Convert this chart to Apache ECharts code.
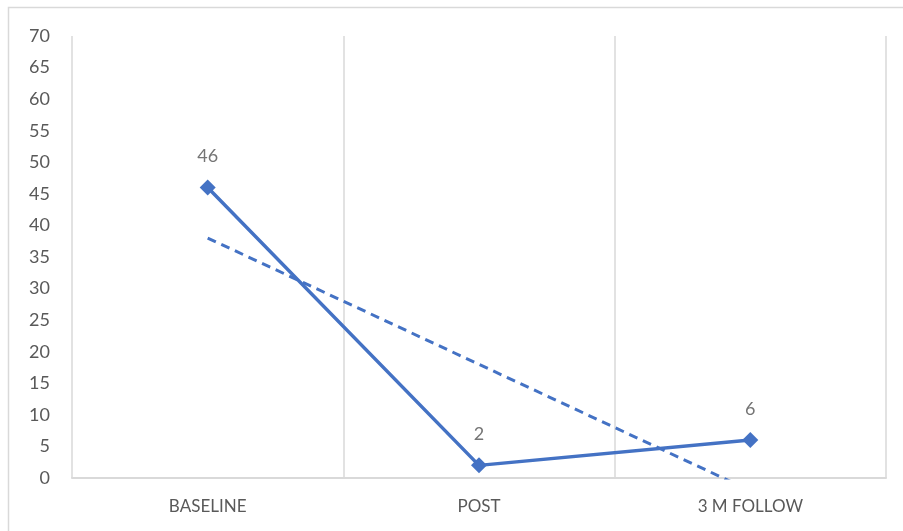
<!DOCTYPE html>
<html>
<head>
<meta charset="utf-8">
<script src="https://cdn.jsdelivr.net/npm/echarts@6/dist/echarts.min.js"></script>
<style>
  html, body { margin: 0; padding: 0; background: #fff; }
  #chart { width: 903px; height: 531px; }
</style>
</head>
<body>
<div id="chart"></div>
<script>
// Scores at each measurement point
const categories = ['BASELINE', 'POST', '3 M FOLLOW'];
const scores = [46, 2, 6];
const yTicks = { min: 0, max: 70, interval: 5 };

// Least-squares linear trend through the scores (x = 1, 2, 3)
function linearTrend(values) {
  const n = values.length;
  const xs = values.map((_, i) => i + 1);
  const mx = xs.reduce((a, b) => a + b, 0) / n;
  const my = values.reduce((a, b) => a + b, 0) / n;
  let num = 0, den = 0;
  for (let i = 0; i < n; i++) {
    num += (xs[i] - mx) * (values[i] - my);
    den += (xs[i] - mx) * (xs[i] - mx);
  }
  const slope = num / den;
  return xs.map(x => my + slope * (x - mx));
}
const trend = linearTrend(scores);

const chart = echarts.init(document.getElementById('chart'), null, { renderer: 'canvas' });
const blue = '#4472c4';
const grey = '#d9d9d9';
const labelFont = 'Lato, "Liberation Sans", sans-serif';

chart.setOption({
  animation: false,
  backgroundColor: '#fff',
  graphic: [{
    type: 'rect',
    shape: { x: 8.5, y: 7.5, width: 900, height: 530 },
    style: { fill: 'none', stroke: grey, lineWidth: 1.5 },
    silent: true
  }],
  grid: { left: 72, right: 17, top: 36, bottom: 53 },
  xAxis: {
    type: 'category',
    data: categories,
    boundaryGap: true,
    axisLine: { show: true, lineStyle: { color: grey, width: 2 } },
    axisTick: { show: false },
    splitLine: { show: true, lineStyle: { color: grey, width: 1.5 } },
    axisLabel: {
      color: '#595959',
      fontFamily: labelFont,
      fontSize: 17,
      margin: 20
    }
  },
  yAxis: {
    type: 'value',
    min: yTicks.min,
    max: yTicks.max,
    interval: yTicks.interval,
    axisLine: { show: false },
    axisTick: { show: false },
    splitLine: { show: false },
    axisLabel: {
      color: '#595959',
      fontFamily: labelFont,
      fontSize: 18,
      margin: 22
    }
  },
  series: [
    {
      name: 'Score',
      type: 'line',
      data: scores,
      symbol: 'diamond',
      symbolSize: 16,
      itemStyle: { color: blue },
      lineStyle: { color: blue, width: 3.5 },
      label: {
        show: true,
        position: 'top',
        distance: 14,
        color: '#757575',
        fontFamily: labelFont,
        fontSize: 18
      },
      z: 3
    },
    {
      name: 'Trend',
      type: 'line',
      data: trend,
      symbol: 'none',
      clip: true,
      lineStyle: { color: blue, width: 3, type: [9, 6] },
      z: 2
    }
  ]
});
</script>
</body>
</html>
